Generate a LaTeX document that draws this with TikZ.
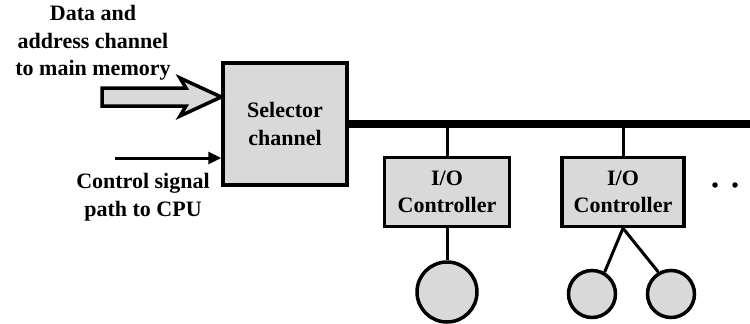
\documentclass[tikz,border=0pt]{standalone}
\usepackage{fontspec}
\setmainfont{Liberation Serif}
\usetikzlibrary{arrows.meta}
\definecolor{boxgray}{HTML}{D9D9D9}
\begin{document}
\begin{tikzpicture}[x=1pt,y=-1pt,
  txt/.style={font=\bfseries\fontsize{22}{27.5}\selectfont, align=center, inner sep=0pt},
  unit/.style={draw, line width=3.5pt, fill=boxgray, txt},
  dev/.style={draw, line width=3.5pt, fill=boxgray, circle, inner sep=0pt},
  wire/.style={line width=3pt},
]
\useasboundingbox (0,0) rectangle (750,324);
% selector channel
\node[unit, minimum width=124pt, minimum height=122pt] (sel) at (285,124) {Selector\\channel};
% bus
\coordinate (busend) at (750,124);
\draw[line width=7.5pt] (sel.east) -- (busend);
% I/O controllers
\node[unit, minimum width=125pt, minimum height=69pt] (io1) at (447,192) {I/O\\Controller};
\node[unit, minimum width=122pt, minimum height=69pt] (io2) at (623,192) {I/O\\Controller};
\draw[wire] (io1.north) -- (io1.north |- busend);
\draw[wire] (io2.north) -- (io2.north |- busend);
% devices
\node[dev, minimum size=60pt] (d1) at (447,292) {};
\node[dev, minimum size=47pt] (d2) at (592,294) {};
\node[dev, minimum size=47pt] (d3) at (671,294) {};
\draw[wire] (io1.south) -- (d1.north);
\draw[wire] (io2.south) -- (d2.60);
\draw[wire] (io2.south) -- (d3.120);
% dots
\node[circle, fill=black, inner sep=0pt, minimum size=5.5pt] (dot1) at (715,185) {};
\node[circle, fill=black, inner sep=0pt, minimum size=5.5pt] (dot2) at (735,185) {};
% big data arrow
\draw[line width=3.5pt, fill=boxgray, line join=miter]
  (102,88) -- (186,88) -- (180,78) -- (sel.west |- 0,97) -- (180,116) -- (186,106) -- (102,106) -- cycle;
% control arrow
\coordinate (cstart) at (115,158);
\draw[line width=3pt, -{Triangle[length=13pt,width=12pt]}] (cstart) -- (cstart -| sel.west);
% labels
\node[txt] (datalbl) at (93,43) {Data and\\address channel\\to main memory};
\node[txt] (ctllbl) at (143,197) {Control signal\\path to CPU};
\end{tikzpicture}
\end{document}
